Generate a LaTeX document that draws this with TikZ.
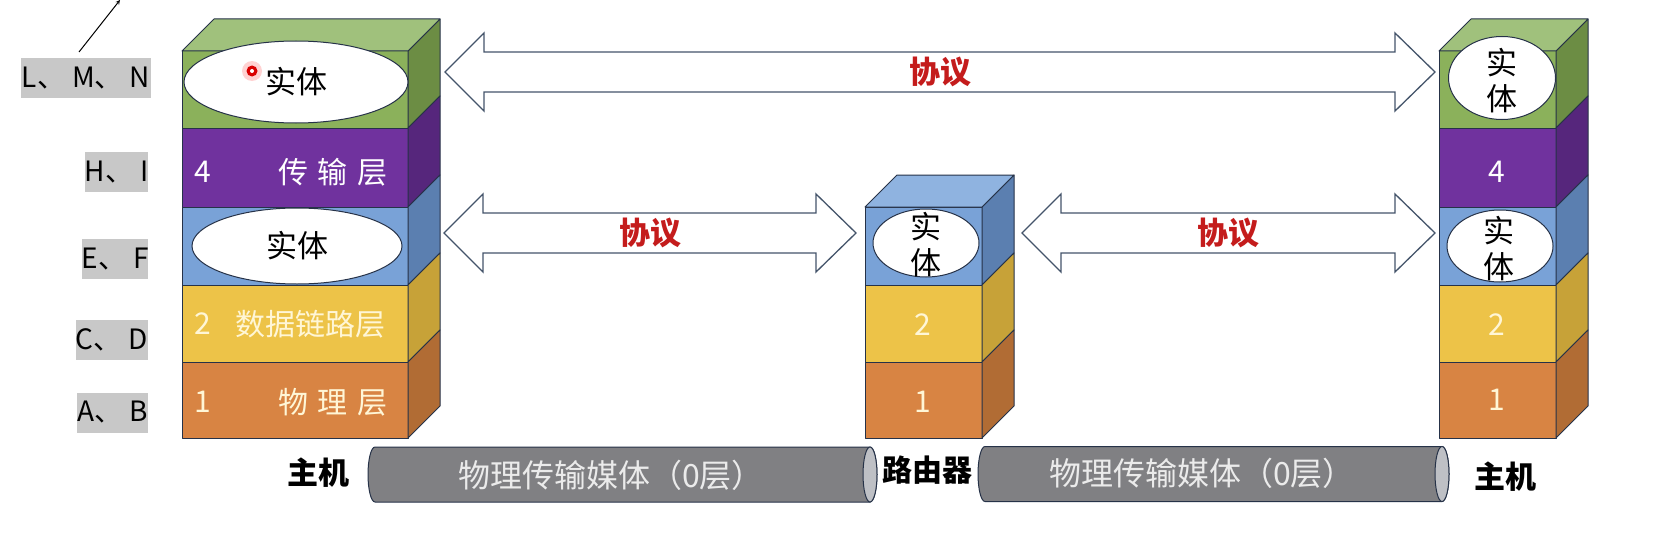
\documentclass[tikz,border=0pt]{standalone}
\usepackage{fontspec}
\setmainfont{Noto Sans CJK SC}
\usepackage{tikz}
\usetikzlibrary{shapes.geometric, arrows, calc}

\definecolor{grnF}{RGB}{139,177,91}
\definecolor{grnS}{RGB}{108,141,68}
\definecolor{grnT}{RGB}{160,193,124}
\definecolor{purF}{RGB}{112,50,158}
\definecolor{purS}{RGB}{86,38,124}
\definecolor{bluF}{RGB}{121,162,215}
\definecolor{bluS}{RGB}{91,127,176}
\definecolor{bluT}{RGB}{143,179,224}
\definecolor{yelF}{RGB}{237,195,72}
\definecolor{yelS}{RGB}{199,162,56}
\definecolor{orgF}{RGB}{216,132,67}
\definecolor{orgS}{RGB}{177,108,52}
\definecolor{edge}{RGB}{38,50,72}
\definecolor{arrowline}{RGB}{68,84,106}
\definecolor{pipegray}{RGB}{128,128,131}
\definecolor{capgray}{RGB}{190,192,197}
\definecolor{protored}{RGB}{196,28,28}
\definecolor{labelgray}{RGB}{200,200,200}
\definecolor{cream}{RGB}{255,246,214}

\tikzstyle{face} = [draw=edge, line width=1pt, line join=round]
\tikzstyle{layerbox} = [face, rectangle, inner sep=0pt, outer sep=0pt, anchor=north west]
\tikzstyle{entity} = [ellipse, draw=edge, line width=1pt, fill=white, inner sep=0pt]
\tikzstyle{entitytext} = [align=center, font=\fontsize{31}{36}\selectfont]
\tikzstyle{num} = [font=\fontsize{30}{34}\selectfont]
\tikzstyle{proto} = [text=protored, font=\bfseries\fontsize{31}{34}\selectfont]
\tikzstyle{hostname} = [font=\bfseries\fontsize{31}{34}\selectfont]
\tikzstyle{lettertag} = [rectangle, fill=labelgray, inner sep=0pt, minimum height=40pt, font=\fontsize{28}{30}\selectfont]
\tikzstyle{blockarrow} = [draw=arrowline, fill=white, line width=1.3pt, line join=miter]
\tikzstyle{pipebody} = [draw=edge, fill=pipegray, line width=1pt]
\tikzstyle{pipecap} = [draw=edge, fill=capgray, line width=1pt]
\tikzstyle{pipetext} = [text=white!92!black, font=\fontsize{32}{36}\selectfont]

% one layer of a stack: name, x, width, top, height, colour
\newcommand{\slab}[6]{%
  \node[layerbox, fill=#6F, minimum width=#3pt, minimum height=#5pt] (#1) at (#2,#4) {};
  \draw[face, fill=#6S] (#1.north east) -- ++(32,-32) -- ++(0,#5) -- (#1.south east) -- cycle;
}
% double block arrow from left tip to right tip
\newcommand{\blockarrow}[2]{%
  \draw[blockarrow] (#1) -- ++(39,-39) -- ++(0,19) -- ($(#2)+(-40,-20)$) -- ++(0,-19) -- (#2)
    -- ++(-40,39) -- ++(0,-19) -- ($(#1)+(39,20)$) -- ++(0,19) -- cycle;
}
% lying pipe between two centres
\newcommand{\drawpipe}[2]{%
  \draw[pipebody] ($(#1)+(0,-27.5)$) -- ($(#2)+(0,-27.5)$)
    arc[start angle=90, end angle=-90, x radius=7pt, y radius=27.5pt]
    -- ($(#1)+(0,27.5)$) arc[start angle=270, end angle=90, x radius=7pt, y radius=27.5pt] -- cycle;
  \draw[pipecap] (#2) ellipse [x radius=7pt, y radius=27.5pt];
}
\newcommand{\gap}{\hspace{7pt}}

\begin{document}
\begin{tikzpicture}[x=1pt, y=-1pt, >=stealth]
    \useasboundingbox (0,0) rectangle (1670,535);
    \fill[white] (0,0) rectangle (1670,535);

    % left host
    \foreach \n/\yt/\h/\col in {5/51/77/grn, 4/128/79/pur, 3/207/78/blu, 2/285/77/yel, 1/362/76/org}
        \slab{hl\n}{182}{226}{\yt}{\h}{\col};
    \draw[face, fill=grnT] (hl5.north west) -- ++(32,-32) -- ++(226,0) -- ++(-32,32) -- cycle;

    % router
    \foreach \n/\yt/\h/\col in {3/207/78/blu, 2/285/77/yel, 1/362/76/org}
        \slab{rt\n}{865}{117}{\yt}{\h}{\col};
    \draw[face, fill=bluT] (rt3.north west) -- ++(32,-32) -- ++(117,0) -- ++(-32,32) -- cycle;

    % right host
    \foreach \n/\yt/\h/\col in {5/51/77/grn, 4/128/79/pur, 3/207/78/blu, 2/285/77/yel, 1/362/76/org}
        \slab{hr\n}{1439}{117}{\yt}{\h}{\col};
    \draw[face, fill=grnT] (hr5.north west) -- ++(32,-32) -- ++(117,0) -- ++(-32,32) -- cycle;

    % entities
    \node[entity, minimum width=224pt, minimum height=82pt] (el5) at (296,82) {};
    \node[entitytext] (el5t) at (el5) {实体};
    \node[entity, minimum width=210pt, minimum height=76pt] (el3) at (297,246) {};
    \node[entitytext] (el3t) at (el3) {实体};
    \node[entity, minimum width=106pt, minimum height=68pt] (er3) at (926,243) {};
    \node[entitytext] (er3t) at (926,245) {实\\体};
    \node[entity, minimum width=107pt, minimum height=83pt] (ee5) at (1502,78) {};
    \node[entitytext] (ee5t) at (1502,81) {实\\体};
    \node[entity, minimum width=106pt, minimum height=72pt] (ee3) at (1500,246) {};
    \node[entitytext] (ee3t) at (1499,249) {实\\体};

    % pointer dot
    \fill[red!50, opacity=0.35] (252,71) circle (10pt);
    \fill[red!85!black] (252,71) circle (5.5pt);
    \fill[white] (252,71) circle (2pt);

    % layer texts
    \node[num, text=white] (hl4n) at (203,172) {4};
    \node[num, text=white] (hl4t) at (333,172) {传\hspace{10pt}输\hspace{10pt}层};
    \node[num, text=cream] (hl2n) at (203,324) {2};
    \node[num, text=cream] (hl2t) at (310,324) {数据链路层};
    \node[num, text=cream] (hl1n) at (203,402) {1};
    \node[num, text=cream] (hl1t) at (333,402) {物\hspace{10pt}理\hspace{10pt}层};
    \node[num, text=cream] (rt2n) at (923,325) {2};
    \node[num, text=cream] (rt1n) at (923,402) {1};
    \node[num, text=white] (hr4n) at (1497,172) {4};
    \node[num, text=cream] (hr2n) at (1497,325) {2};
    \node[num, text=cream] (hr1n) at (1497,400) {1};

    % letter tags
    \node[lettertag, minimum width=130pt] (tagLMN) at (86,78) {L、\gap M、\gap N};
    \node[lettertag, minimum width=61pt] (tagHI) at (116.5,172) {H、\gap I};
    \node[lettertag, minimum width=64pt] (tagEF) at (115,259) {E、\gap F};
    \node[lettertag, minimum width=70pt] (tagCD) at (112,339.5) {C、\gap D};
    \node[lettertag, minimum width=69pt] (tagAB) at (112.5,412.5) {A、\gap B};
    \coordinate (lead0) at (79,52);
    \coordinate (lead1) at (120,0);
    \draw[->, line width=1pt] (lead0) -- (lead1);

    % protocol arrows
    \coordinate (a1l) at (445,72);
    \coordinate (a1r) at (1435,72);
    \coordinate (a2l) at (444,233);
    \coordinate (a2r) at (856,233);
    \coordinate (a3l) at (1022,233);
    \coordinate (a3r) at (1435,233);
    \blockarrow{a1l}{a1r}
    \blockarrow{a2l}{a2r}
    \blockarrow{a3l}{a3r}
    \node[proto] (pr1) at ($(a1l)!0.5!(a1r)$) {协议};
    \node[proto] (pr2) at ($(a2l)!0.5!(a2r)$) {协议};
    \node[proto] (pr3) at ($(a3l)!0.5!(a3r)$) {协议};

    % media
    \coordinate (m1a) at (375,474.5);
    \coordinate (m1b) at (870,474.5);
    \coordinate (m2a) at (985,474);
    \coordinate (m2b) at (1442,474);
    \drawpipe{m1a}{m1b}
    \drawpipe{m2a}{m2b}
    \node[pipetext] (m1t) at (611,475) {物理传输媒体（0层）};
    \node[pipetext] (m2t) at (1202,473) {物理传输媒体（0层）};

    \node[hostname] (hostL) at (318,473) {主机};
    \node[hostname, font=\bfseries\fontsize{30}{34}\selectfont] (router) at (927,470) {路由器};
    \node[hostname] (hostR) at (1505,477) {主机};
\end{tikzpicture}
\end{document}
